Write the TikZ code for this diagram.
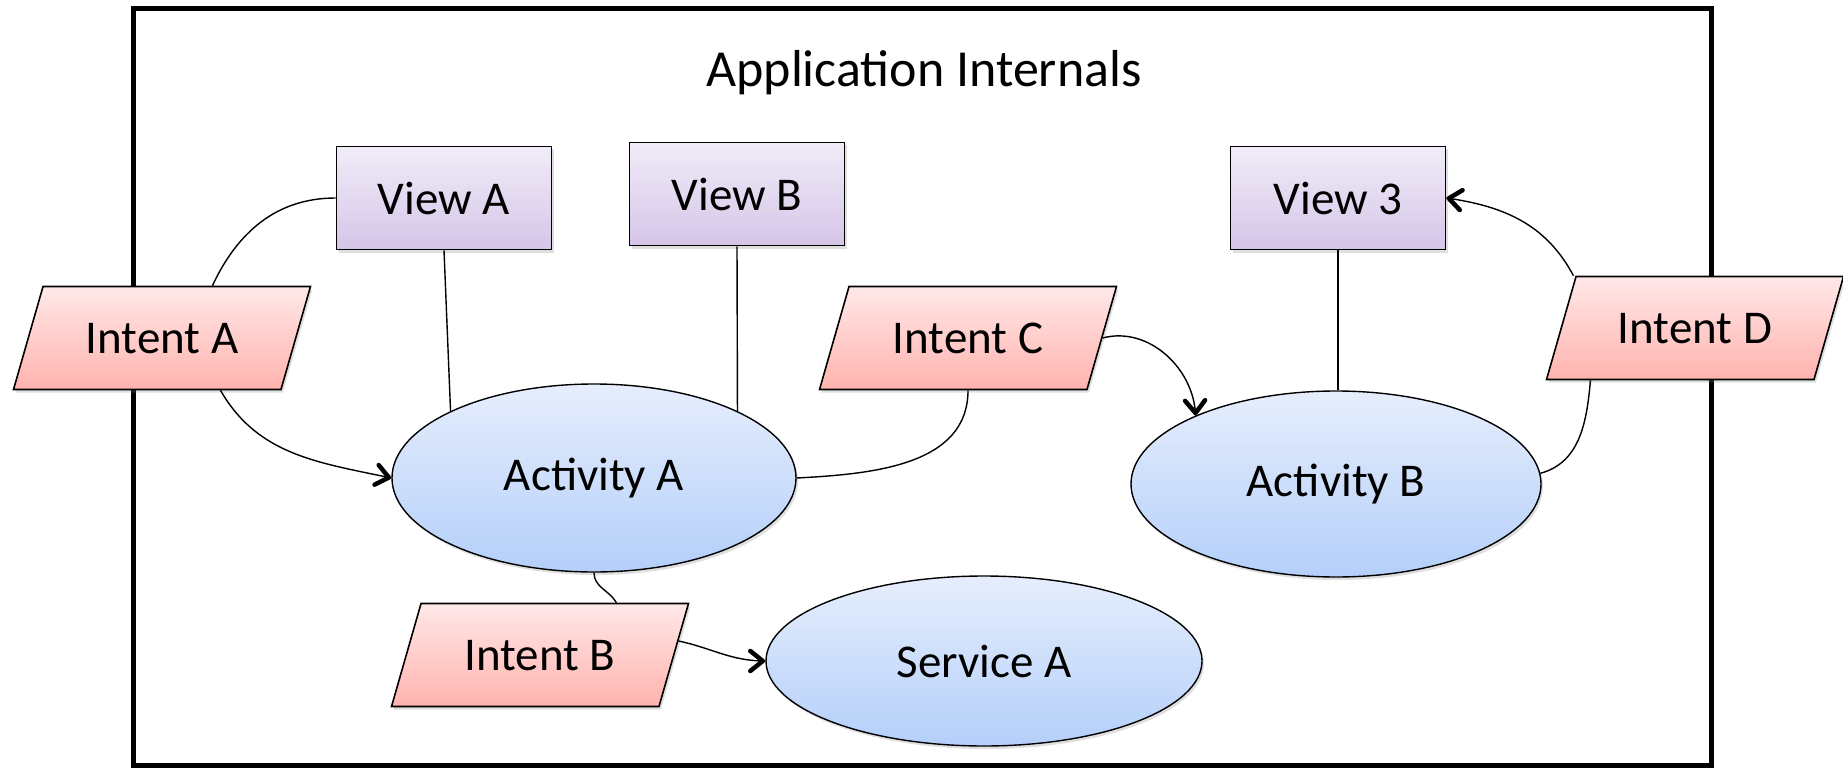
\documentclass[tikz,border=0pt]{standalone}
\usepackage{fontspec}
\setmainfont{Carlito}
\usetikzlibrary{shapes.geometric,shadows,decorations.markings}

\definecolor{viewtop}{HTML}{F1ECF8}
\definecolor{viewbot}{HTML}{D5C5E8}
\definecolor{inttop}{HTML}{FFE8E8}
\definecolor{intbot}{HTML}{FFB3AE}
\definecolor{acttop}{HTML}{E6EEFC}
\definecolor{actbot}{HTML}{B4CFFA}

\begin{document}
\begin{tikzpicture}[x=1pt,y=1pt,
  lbl/.style={font=\fontsize{47}{56}\selectfont},
  soft/.style={drop shadow={shadow xshift=2pt,shadow yshift=-3pt,opacity=0.25}},
  viewbox/.style={lbl,soft,draw,line width=1.6pt,rectangle,inner sep=0pt,
    minimum width=215pt,minimum height=103pt,top color=viewtop,bottom color=viewbot},
  intentbox/.style={lbl,soft,draw,line width=1.6pt,trapezium,
    trapezium left angle=74,trapezium right angle=106,
    trapezium stretches body=true,inner xsep=0pt,inner ysep=36pt,
    text height=31pt,text depth=0pt,
    minimum width=297pt,top color=inttop,bottom color=intbot},
  compbox/.style={lbl,soft,draw,line width=1.4pt,ellipse,inner sep=0pt,
    top color=acttop,bottom color=actbot},
  link/.style={draw,line width=1.4pt},
  % bold open chevron at the end of a connector
  arr/.style={link,postaction={decorate},
    decoration={markings,mark=at position 1 with {
      \draw[line width=4.5pt,line cap=round,line join=round]
        (-15pt,10pt) -- (-2.5pt,0pt) -- (-15pt,-10pt);}}}
]
\useasboundingbox (0,0) rectangle (1843,-770);

% outer frame
\draw[line width=5pt] (133,-9) rectangle (1711,-765);
\node[font=\fontsize{52}{62}\selectfont] (title) at (924,-73) {Application Internals};

% views
\node[viewbox] (va) at (444,-198) {View A};
\node[viewbox] (vb) at (737,-194) {View B};
\node[viewbox] (v3) at (1338,-198) {View 3};

% activities and service
\node[compbox,minimum width=404pt,minimum height=188pt] (aa) at (594,-478) {Activity A};
\node[compbox,minimum width=410pt,minimum height=186pt] (ab) at (1336,-484) {Activity B};
\node[compbox,minimum width=436pt,minimum height=170pt] (sa) at (984,-661) {Service A};

% intents
\node[intentbox] (ia) at (162,-338) {Intent A};
\node[intentbox] (ic) at (968,-338) {Intent C};
\node[intentbox] (id) at (1695,-328) {Intent D};
\node[intentbox] (ib) at (540,-655) {Intent B};

% connectors
\draw[link] (va.south) -- (aa.155);
\draw[link] (vb.south) -- (aa.25);
\draw[link] (v3.south) -- (v3.south |- ab.north);

\draw[link] ([xshift=170pt]ia.top left corner) to[out=65,in=180] (va.west);
\draw[arr] ([xshift=208pt]ia.bottom left corner) to[out=-60,in=168] (aa.west);

\draw[link] (ic.center |- ic.south) to[out=-90,in=3] (aa.east);
\draw[arr] (ic.east) to[out=15,in=92] (ab.154);

\draw[arr] ([xshift=-2pt]id.top left corner) to[out=118,in=-8] (v3.east);
\draw[link] ([xshift=45pt]id.bottom left corner) to[out=-95,in=15] (ab.3);

\draw[link] (aa.south) to[out=-90,in=120] ([xshift=196pt]ib.top left corner);
\draw[arr] ([xshift=4pt,yshift=14pt]ib.east) to[out=-12,in=180] (sa.west);
\end{tikzpicture}
\end{document}
